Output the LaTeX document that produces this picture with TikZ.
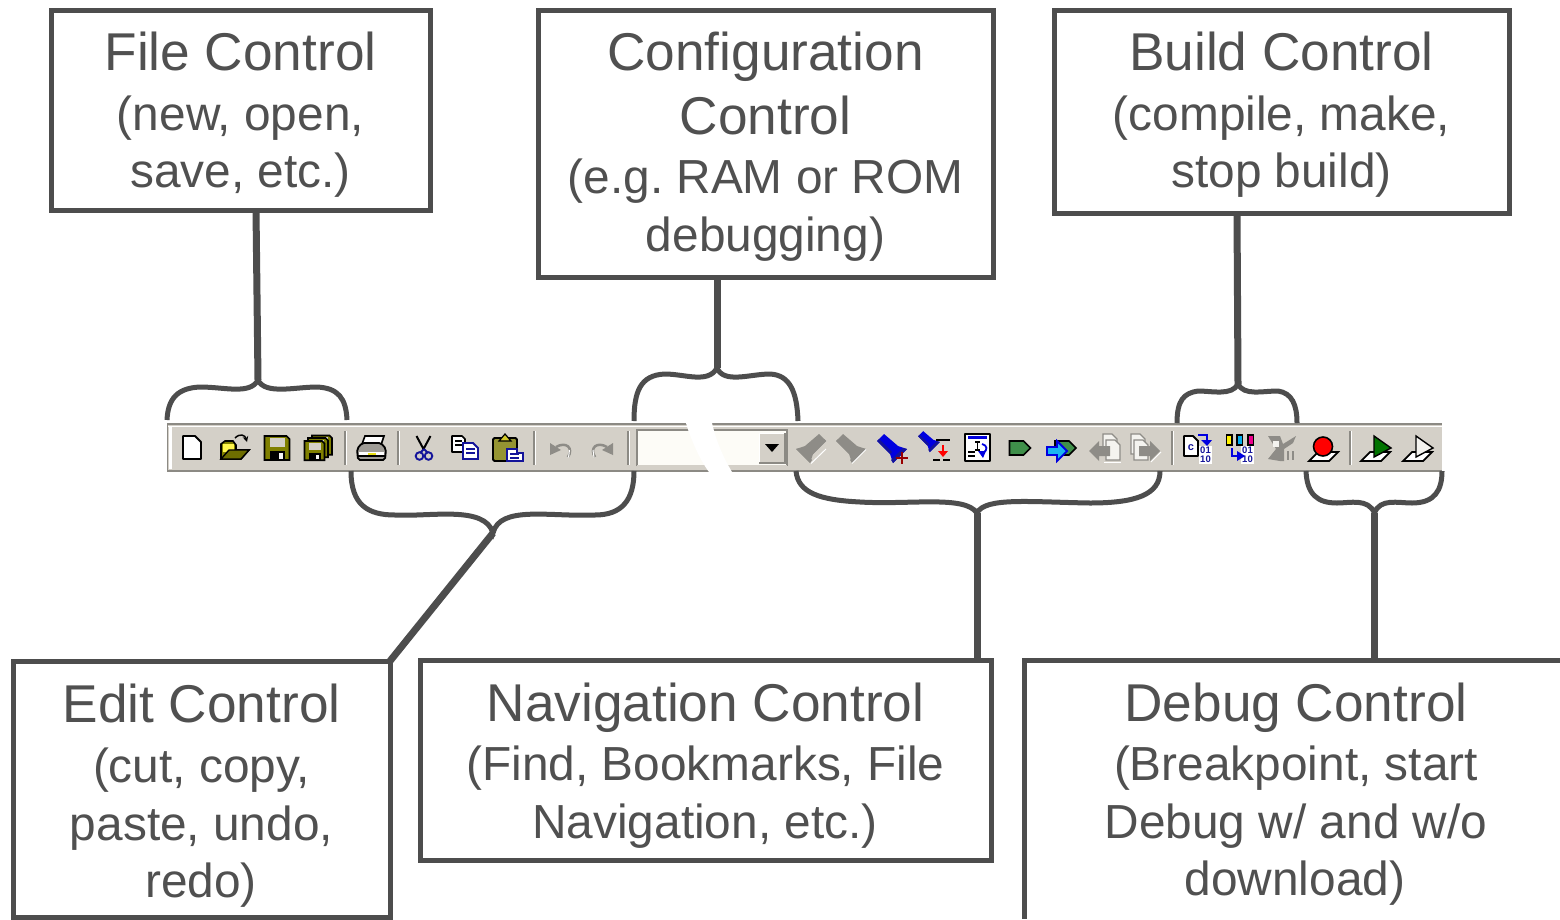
\documentclass[tikz,border=0pt]{standalone}
\usepackage{fontspec}
\setmainfont{Liberation Sans}
\frenchspacing
\definecolor{ink}{HTML}{4D4D4D}
\definecolor{txt}{HTML}{505050}
\definecolor{bar}{HTML}{D4D0C8}
\definecolor{sepd}{HTML}{8C8A84}
\definecolor{olive}{HTML}{808000}
\definecolor{dgrey}{HTML}{8E8C87}
\definecolor{lgrey}{HTML}{F4F3EF}
\definecolor{navy}{HTML}{14149A}
\definecolor{bblue}{HTML}{0000E0}
\definecolor{dgreen}{HTML}{3F8F4A}
\definecolor{combo}{HTML}{FDFCF7}
\tikzset{
 cbox/.style={draw=ink,line width=5pt,inner sep=0pt,outer sep=0pt},
 conn/.style={draw=ink,line width=7pt},
 brace/.style={draw=ink,line width=5pt},
 head/.style={anchor=base,text=txt,inner sep=0pt,font=\fontsize{53.2}{60}\selectfont},
 sub/.style={anchor=base,text=txt,inner sep=0pt,font=\fontsize{47.8}{54}\selectfont},
 ik/.style={draw=black,line width=1.6pt,line join=round},
}
\newcommand{\sepbar}[1]{\draw[sepd,line width=2pt] (#1,431)--(#1,465); \draw[white,line width=1pt] (#1+1.6,431)--(#1+1.6,465);}
\newcommand{\savedisk}[3]{\begin{scope}[shift={(#1,#2)},scale=#3]
 \fill[olive,draw=black,line width=1.6pt] (0,0)--(22,0)--(25,3)--(25,24)--(0,24)--cycle;
 \fill[bar] (5,2) rectangle (20,11);
 \fill[black] (5,15) rectangle (20,24);
 \fill[white!80!bar] (14,17) rectangle (18,23);
 \end{scope}}
\newcommand{\flashlight}[5]{\begin{scope}[shift={(#1,#2)},xscale=#3]
 \fill[#4] (-15,-8)--(-8,-15)--(6,-3)--(15,0)--(1,14)--(-2,5)--cycle;
 \fill[#5] (1,14)--(15,0)--(11,-1)--(-1,11)--cycle;
 \fill[#5] (-15,-8)--(-13,-10)--(0,3)--(-2,5)--cycle;
 \end{scope}}
\newcommand{\tagshape}[4]{\fill[#3,draw=#4,line width=1.6pt] (#1,#2-7)--(#1+14,#2-7)--(#1+21,#2)--(#1+14,#2+7)--(#1,#2+7)--cycle;}
\newcommand{\docg}[3]{\draw[#3,fill=lgrey,line width=1.4pt] (#1,#2)--(#1+9,#2)--(#1+14,#2+5)--(#1+14,#2+20)--(#1,#2+20)--cycle;}
\newcommand{\bits}[3]{\fill[white] (#1,#2-1) rectangle (#1+13,#2+17);
 \node[inner sep=0pt,text=navy,font=\bfseries\fontsize{9.5}{9.5}\selectfont] (#3a) at (#1+6.5,#2+3.5) {01};
 \node[inner sep=0pt,text=navy,font=\bfseries\fontsize{9.5}{9.5}\selectfont] (#3b) at (#1+6.5,#2+12.5) {10};}
\newcommand{\breakbase}[2]{\fill[white,draw=black,line width=1.8pt] (#1,#2)--(#1+9,#2-9)--(#1+29,#2-9)--(#1+20,#2)--cycle;}
\begin{document}
\begin{tikzpicture}[x=1pt,y=-1pt]
\useasboundingbox (0,0) rectangle (1560,919);
\fill[white] (0,0) rectangle (1560,919);

% ---------- toolbar
\fill[bar] (167,424) rectangle (1442,471);
\draw[sepd,line width=2pt] (167,424)--(1442,424);
\draw[white,line width=1.5pt] (167,426.5)--(1442,426.5);
\draw[sepd,line width=2pt] (167,470.5)--(1442,470.5);
\draw[sepd,line width=1.5pt] (167.5,424)--(167.5,471);
\fill[white] (168.5,427) rectangle (171.5,469);
\sepbar{345}\sepbar{398}\sepbar{534}\sepbar{628}\sepbar{1172}\sepbar{1350}

% new file
\draw[ik,line width=1.9pt,fill=white] (183,436)--(195,436)--(201,442)--(201,459)--(183,459)--cycle;
% open folder
\fill[olive,draw=black,line width=1.6pt] (221,459)--(221,444)--(225,441)--(233,441)--(236,445)--(236,450)--(249,450)--(241,459)--cycle;
\fill[yellow!70!white] (223,444) rectangle (234,452);
\fill[olive!85!black,draw=black,line width=1.4pt] (221,459)--(229,450)--(249,450)--(241,459)--cycle;
\draw[black,line width=1.5pt,->,>=stealth] (235,438) .. controls (240,433) and (245,435) .. (247,442);
% save
\savedisk{264.5}{436}{1}
% save all
\savedisk{312}{435.5}{.8}
\savedisk{308}{438}{.8}
\savedisk{304.5}{441}{.8}
% print
\fill[white,draw=black,line width=1.6pt] (362,444)--(365,436)--(384,436)--(381,445)--cycle;
\fill[bar!75!black,draw=black,line width=1.8pt,rounded corners=2pt] (357,449)--(362,443)--(381,443)--(386,449)--(385,460)--(358,460)--cycle;
\fill[white] (359,452) rectangle (384,455);
\draw[black,line width=1.6pt] (358,456)--(385,456);
\fill[yellow!80!olive] (368,453) rectangle (376,455);
% cut
\draw[black,line width=2pt] (416.5,436)--(424,450) (430.5,436)--(423,450);
\draw[navy,line width=1.9pt] (419.5,456) circle (3.8);
\draw[navy,line width=1.9pt] (428.5,456) circle (3.8);
\draw[navy,line width=1.9pt] (424,449)--(420.5,452.5) (424,449)--(427.5,452.5);
% copy
\draw[ik,fill=white] (452,436)--(462,436)--(465,439)--(465,452)--(452,452)--cycle;
\draw[black,line width=1.5pt] (455,441)--(462,441) (455,445)--(462,445);
\draw[draw=navy,fill=white,line width=1.9pt] (463,443)--(473,443)--(478,448)--(478,459)--(463,459)--cycle;
\draw[navy,line width=1.6pt] (466,449)--(475,449) (466,453)--(475,453);
% paste
\fill[olive!75!bar,draw=black,line width=1.8pt,rounded corners=1.5pt] (493,438) rectangle (517,461);
\fill[yellow!60!olive,draw=black,line width=1.2pt] (499,441)--(505,434)--(511,441)--cycle;
\draw[draw=navy,fill=white,line width=1.9pt] (507,449)--(517,449)--(517,453)--(523,453)--(523,461)--(507,461)--cycle;
\draw[navy,line width=1.6pt] (510,454)--(519,454) (510,458)--(519,458);
% undo redo
\draw[dgrey,line width=2.5pt] (556,447) .. controls (566,441) and (574,448) .. (568,457);
\fill[dgrey] (550,443)--(561,450)--(550,455)--cycle;
\draw[white,line width=1pt] (569.5,450)--(568.5,457.5);
\draw[dgrey,line width=2.5pt] (607,447) .. controls (597,441) and (589,448) .. (595,457);
\fill[dgrey] (613,443)--(602,450)--(613,455)--cycle;
\draw[white,line width=1pt] (593,450)--(594,457.5);

% combo box
\fill[combo] (637,430) rectangle (787,466);
\draw[sepd,line width=2pt] (637,466)--(637,430)--(787,430)--(787,466);
\draw[bar,line width=1.5pt] (637,465.5)--(787,465.5);
\fill[bar] (759,433) rectangle (785,463);
\draw[white,line width=1pt] (759,463)--(759,433)--(785,433);
\draw[sepd,line width=2pt] (785,433)--(785,463)--(759,463);
\fill[black] (765,444)--(779,444)--(772,452)--cycle;
\fill[white] (686,423) .. controls (691,440) and (700,460) .. (709,472) -- (732,472) .. controls (722,455) and (716,440) .. (712,423) -- cycle;

% grey search icons
\flashlight{811}{449}{-1}{dgrey}{dgrey}
\draw[white,line width=1pt] (826,449)--(811,463.5);
\flashlight{851}{449}{1}{dgrey}{dgrey}
\draw[white,line width=1pt] (866,449.5)--(852,463.5);
% blue search icons
\flashlight{892}{449}{1}{bblue}{navy}
\draw[red!60!black,line width=2.2pt] (896,458)--(908,458) (902,452)--(902,464);
\begin{scope}[shift={(929,442)},scale=.72]
\flashlight{0}{0}{1}{bblue}{navy}
\end{scope}
\draw[black,line width=2.8pt] (936,440)--(950,440) (933,460)--(940,460) (943,460)--(950,460);
\draw[red,line width=2pt] (943,445)--(943,456);
\fill[red] (938,451)--(948,451)--(943,457)--cycle;
% window icon
\draw[ik,line width=1.9pt,fill=white] (965,434) rectangle (990,461);
\fill[bblue] (968,436) rectangle (987,439);
\draw[black,line width=1.2pt] (975,442)--(980,442) (977.5,442)--(977.5,450) (975,450)--(980,450);
\draw[black,line width=1.4pt] (968,452)--(975,452) (968,456)--(975,456);
\draw[bblue,line width=1.8pt] (982,444) .. controls (988,445) and (987,451) .. (984,452);
\fill[bblue] (978,451)--(986,451)--(983,458)--cycle;
% bookmark tags
\tagshape{1009.5}{448}{dgreen}{black}
\tagshape{1055}{448}{dgreen}{black}
\fill[cyan!90!white,draw=bblue,line width=1.8pt] (1047,447)--(1057,447)--(1057,441)--(1067,451)--(1057,461)--(1057,455)--(1047,455)--cycle;
% grey file navigation
\docg{1103}{434}{dgrey}
\docg{1106}{440}{dgrey}
\fill[dgrey] (1089,451)--(1099,441)--(1099,446)--(1110,446)--(1110,456)--(1099,456)--(1099,461)--cycle;
\draw[white,line width=1pt] (1104,462)--(1121,462);
\docg{1131}{434}{dgrey}
\docg{1134}{440}{dgrey}
\fill[dgrey] (1160,451)--(1150,441)--(1150,446)--(1139,446)--(1139,456)--(1150,456)--(1150,461)--cycle;
\draw[white,line width=1pt] (1151,462)--(1161,452);
% compile
\draw[ik,line width=1.9pt,fill=white] (1184,436)--(1193,436)--(1198,441)--(1198,456)--(1184,456)--cycle;
\node[inner sep=0pt,text=navy,font=\bfseries\fontsize{11}{11}\selectfont] (compc) at (1191,448) {c};
\bits{1199}{447}{compbits}
\draw[bblue,line width=1.8pt] (1198,435)--(1207,435)--(1207,441);
\fill[bblue] (1201,440)--(1212,440)--(1207,446)--cycle;
% make
\draw[black,fill=yellow,line width=1.7pt] (1226.5,435) rectangle (1232,445);
\draw[black,fill=cyan,line width=1.7pt] (1237,435) rectangle (1242.5,445);
\draw[black,fill=magenta,line width=1.7pt] (1248,435) rectangle (1253.5,445);
\bits{1241}{447}{makebits}
\draw[bblue,line width=1.8pt] (1232,448)--(1232,456)--(1238,456);
\fill[bblue] (1237,451)--(1245,456)--(1237,461)--cycle;
% stop build (greyed)
\fill[dgrey] (1268,436)--(1280,436)--(1283,444)--(1296,436)--(1293,443)--(1284,449)--(1284,461)--(1280,461)--(1268,459)--(1276,449)--cycle;
\fill[lgrey] (1273,441)--(1279,441)--(1279,447)--(1273,447)--cycle;
\draw[dgrey,line width=1.8pt] (1288,451)--(1288,460) (1293,451)--(1293,460);
% breakpoint
\breakbase{1309}{461}
\fill[red,draw=black,line width=1.6pt] (1323,446.5) circle (9.5);
% start debug
\breakbase{1361}{461}
\fill[green!45!black,draw=black,line width=1.4pt] (1374,436)--(1391,448)--(1374,457)--cycle;
% start debug without download
\breakbase{1403}{461}
\fill[lgrey,draw=black,line width=1.4pt] (1416,436)--(1433,448)--(1416,457)--cycle;

% ---------- boxes
\node[cbox,minimum width=379pt,minimum height=200pt] (filebox) at (240.5,110) {};
\node[cbox,minimum width=455pt,minimum height=267pt] (cfgbox) at (765.5,143.5) {};
\node[cbox,minimum width=455pt,minimum height=203pt] (buildbox) at (1281.5,111.5) {};
\node[cbox,minimum width=377pt,minimum height=256pt] (editbox) at (201.5,789) {};
\node[cbox,minimum width=571pt,minimum height=200pt] (navbox) at (705.5,760) {};
\draw[ink,line width=5pt] (1560,660)--(1024.5,660)--(1024.5,919);
\coordinate (debugtop) at (1374.5,660);

% ---------- box text
\node[head] (f1) at (240.5,70) {File Control};
\node[sub] (f2) at (240.5,130) {(new, open,};
\node[sub] (f3) at (240.5,187) {save, etc.)};
\node[head] (c1) at (765.5,70) {Configuration};
\node[head] (c2) at (765.5,134) {Control};
\node[sub] (c3) at (765.5,193) {(e.g. RAM or ROM};
\node[sub] (c4) at (765.5,251) {debugging)};
\node[head] (b1) at (1281.5,70) {Build Control};
\node[sub] (b2) at (1281.5,130) {(compile, make,};
\node[sub] (b3) at (1281.5,187) {stop build)};
\node[head] (e1) at (201.5,722) {Edit Control};
\node[sub] (e2) at (201.5,782) {(cut, copy,};
\node[sub] (e3) at (201.5,840) {paste, undo,};
\node[sub] (e4) at (201,897) {redo)};
\node[head] (n1) at (705.5,721) {Navigation Control};
\node[sub] (n2) at (705.5,780) {(Find, Bookmarks, File};
\node[sub] (n3) at (705,838) {Navigation, etc.)};
\node[head] (d1) at (1296,721) {Debug Control};
\node[sub] (d2) at (1296,780) {(Breakpoint, start};
\node[sub] (d3) at (1296,838) {Debug w/ and w/o};
\node[sub] (d4) at (1295,895) {download)};

% ---------- braces
\coordinate (filetip) at (258,380);
\coordinate (cfgtip) at (717,368);
\coordinate (buildtip) at (1238,384);
\coordinate (edittip) at (493,533);
\coordinate (navtip) at (977,513);
\coordinate (debugtip) at (1374.5,513);
\draw[brace] (167,420) .. controls (168,398) and (178,388) .. (200,387) .. controls (225,387) and (250,395) .. (filetip) .. controls (265,395) and (295,387) .. (317,387) .. controls (338,388) and (346,398) .. (347,420);
\draw[brace] (634,421) .. controls (634,392) and (640,375) .. (665,374) .. controls (685,374) and (708,384) .. (cfgtip) .. controls (724,384) and (750,374) .. (770,374) .. controls (790,375) and (797,392) .. (798,421);
\draw[brace] (1177,423) .. controls (1177,400) and (1184,393) .. (1198,391) .. controls (1212,391) and (1232,396) .. (buildtip) .. controls (1244,396) and (1262,391) .. (1278,391) .. controls (1292,393) and (1297,405) .. (1297,423);
\draw[brace] (351,471) .. controls (351,505) and (368,515) .. (395,515) .. controls (430,517) and (485,505) .. (edittip) .. controls (500,505) and (550,517) .. (595,515) .. controls (622,515) and (634,500) .. (634,471);
\draw[brace] (796,471) .. controls (798,493) and (820,500) .. (860,502) .. controls (910,505) and (965,495) .. (navtip) .. controls (985,497) and (1030,502) .. (1090,503) .. controls (1135,503) and (1160,495) .. (1160,471);
\draw[brace] (1306,471) .. controls (1307,495) and (1318,503) .. (1337,503) .. controls (1350,503) and (1368,498) .. (debugtip) .. controls (1380,498) and (1398,503) .. (1412,503) .. controls (1435,503) and (1442,490) .. (1442,471);

% ---------- connectors
\coordinate (filestart) at (256,0);
\coordinate (cfgstart) at (717,0);
\coordinate (buildstart) at (1237,0);
\coordinate (navstart) at (977,0);
\draw[conn] (filebox.south -| filestart) -- (filetip);
\draw[conn] (cfgbox.south -| cfgstart) -- (cfgtip);
\draw[conn] (buildbox.south -| buildstart) -- (buildtip);
\draw[conn] (editbox.north east) -- (edittip);
\draw[conn] (navbox.north -| navstart) -- (navtip);
\draw[conn] (debugtop) -- (debugtip);
\end{tikzpicture}
\end{document}
